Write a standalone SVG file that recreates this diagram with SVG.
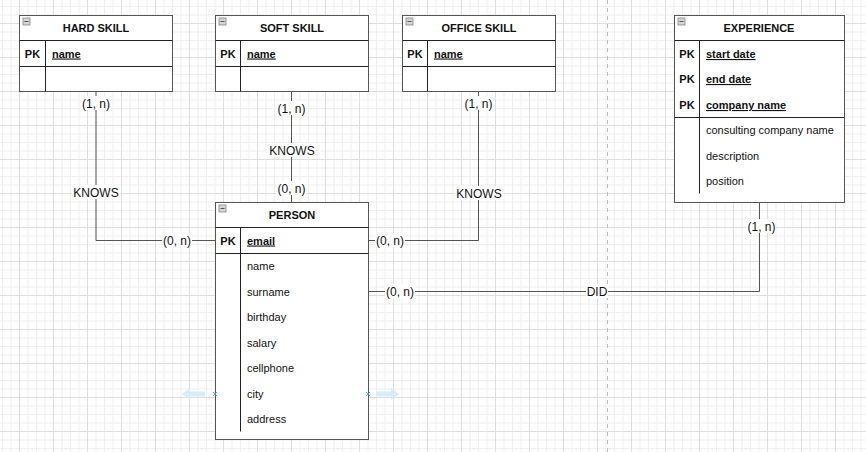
<svg xmlns="http://www.w3.org/2000/svg" width="866" height="452" viewBox="0 0 866 452">
<style>
text{font-family:"Liberation Sans",Arial,Helvetica,sans-serif;fill:#111;}
.hdr{font-size:11px;font-weight:bold;text-anchor:middle;}
.pk{font-size:11px;font-weight:bold;text-anchor:middle;}
.key{font-size:11px;font-weight:bold;text-decoration:underline;}
.att{font-size:11px;}
.box{fill:#fff;stroke:#555;stroke-width:1;}
.div{stroke:#222;stroke-width:1;fill:none;}
.edge{stroke:#555;stroke-width:1;fill:none;}
.lbl{font-size:12px;text-anchor:middle;}
.lbg{fill:#fff;}
.mini{fill:#d6d6d6;stroke:#888;stroke-width:0.8;}
</style>
<defs>
<pattern id="grid" width="34" height="34" patternUnits="userSpaceOnUse" x="19" y="23">
<path d="M0.5 0V34M9 0V34M17.5 0V34M26 0V34M0 0.5H34M0 9H34M0 17.5H34M0 26H34" stroke="#efefef" stroke-width="1"/>
<path d="M0.5 0V34M0 0.5H34" stroke="#dedede" stroke-width="1"/>
</pattern>
<g id="minus"><rect class="mini" x="0" y="0" width="7" height="7"/><line x1="1.5" y1="3.5" x2="5.5" y2="3.5" stroke="#555" stroke-width="1"/></g>
</defs>
<rect width="866" height="452" fill="#fff"/>
<rect width="866" height="452" fill="url(#grid)"/>
<line x1="607.5" y1="0" x2="607.5" y2="452" stroke="#bdbdbd" stroke-dasharray="4 4"/>

<g id="connectors">
<path class="edge" d="M96 92V240.5H215.5"/>
<path class="edge" d="M291.5 92V202"/>
<path class="edge" d="M478.5 92V240.5H368.5"/>
<path class="edge" d="M759.5 202.5V291.5H368.5"/>
<rect class="lbg" x="81" y="96" width="30" height="14"/><text class="lbl" x="96" y="107.5">(1, n)</text>
<rect class="lbg" x="72" y="185" width="48" height="14"/><text class="lbl" x="96" y="196.5">KNOWS</text>
<rect class="lbg" x="162" y="233" width="30" height="14"/><text class="lbl" x="177" y="244.5">(0, n)</text>
<rect class="lbg" x="276" y="101" width="30" height="14"/><text class="lbl" x="291.5" y="112.5">(1, n)</text>
<rect class="lbg" x="268" y="143" width="48" height="14"/><text class="lbl" x="292" y="154.5">KNOWS</text>
<rect class="lbg" x="276" y="181" width="30" height="14"/><text class="lbl" x="291.5" y="192.5">(0, n)</text>
<rect class="lbg" x="463" y="96" width="30" height="14"/><text class="lbl" x="478.5" y="107.5">(1, n)</text>
<rect class="lbg" x="455" y="186" width="48" height="14"/><text class="lbl" x="479" y="197.5">KNOWS</text>
<rect class="lbg" x="375" y="233" width="30" height="14"/><text class="lbl" x="390" y="244.5">(0, n)</text>
<rect class="lbg" x="746" y="219" width="30" height="14"/><text class="lbl" x="761.5" y="230.5">(1, n)</text>
<rect class="lbg" x="586" y="284" width="22" height="14"/><text class="lbl" x="597" y="295.5">DID</text>
<rect class="lbg" x="385" y="284" width="30" height="14"/><text class="lbl" x="400" y="295.5">(0, n)</text>
</g>

<g id="hard-skill">
<rect class="box" x="19.5" y="15.5" width="153" height="76"/>
<line class="div" x1="19.5" y1="40.5" x2="172.5" y2="40.5"/>
<line class="div" x1="19.5" y1="66.5" x2="172.5" y2="66.5"/>
<line class="div" x1="45.5" y1="40.5" x2="45.5" y2="91.5"/>
<use href="#minus" x="23" y="18"/>
<text class="hdr" x="96" y="32">HARD SKILL</text>
<text class="pk" x="32.5" y="57.5">PK</text>
<text class="key" x="52" y="57.5">name</text>
</g>

<g id="soft-skill">
<rect class="box" x="215.5" y="15.5" width="153" height="76"/>
<line class="div" x1="215.5" y1="40.5" x2="368.5" y2="40.5"/>
<line class="div" x1="215.5" y1="66.5" x2="368.5" y2="66.5"/>
<line class="div" x1="240.5" y1="40.5" x2="240.5" y2="91.5"/>
<use href="#minus" x="219" y="18"/>
<text class="hdr" x="292" y="32">SOFT SKILL</text>
<text class="pk" x="228" y="57.5">PK</text>
<text class="key" x="247" y="57.5">name</text>
</g>

<g id="office-skill">
<rect class="box" x="402.5" y="15.5" width="153" height="76"/>
<line class="div" x1="402.5" y1="40.5" x2="555.5" y2="40.5"/>
<line class="div" x1="402.5" y1="66.5" x2="555.5" y2="66.5"/>
<line class="div" x1="427.5" y1="40.5" x2="427.5" y2="91.5"/>
<use href="#minus" x="406" y="18"/>
<text class="hdr" x="479" y="32">OFFICE SKILL</text>
<text class="pk" x="415" y="57.5">PK</text>
<text class="key" x="434" y="57.5">name</text>
</g>

<g id="experience">
<rect class="box" x="674.5" y="15.5" width="170" height="187"/>
<line class="div" x1="674.5" y1="40.5" x2="844.5" y2="40.5"/>
<line class="div" x1="674.5" y1="117.5" x2="844.5" y2="117.5"/>
<line class="div" x1="699.5" y1="40.5" x2="699.5" y2="193.5"/>
<use href="#minus" x="678" y="18"/>
<text class="hdr" x="759" y="32">EXPERIENCE</text>
<text class="pk" x="687" y="58">PK</text>
<text class="key" x="706" y="58">start date</text>
<text class="pk" x="687" y="83">PK</text>
<text class="key" x="706" y="83">end date</text>
<text class="pk" x="687" y="109">PK</text>
<text class="key" x="706" y="109">company name</text>
<text class="att" x="706" y="134">consulting company name</text>
<text class="att" x="706" y="160">description</text>
<text class="att" x="706" y="185">position</text>
</g>

<g id="person">
<rect class="box" x="215.5" y="202.5" width="153" height="237"/>
<line class="div" x1="215.5" y1="227.5" x2="368.5" y2="227.5"/>
<line class="div" x1="215.5" y1="253.5" x2="368.5" y2="253.5"/>
<line class="div" x1="240.5" y1="227.5" x2="240.5" y2="431.5"/>
<use href="#minus" x="219" y="205"/>
<text class="hdr" x="292" y="219">PERSON</text>
<text class="pk" x="228" y="244.5">PK</text>
<text class="key" x="247" y="244.5">email</text>
<text class="att" x="247" y="270">name</text>
<text class="att" x="247" y="296">surname</text>
<text class="att" x="247" y="321">birthday</text>
<text class="att" x="247" y="347">salary</text>
<text class="att" x="247" y="372">cellphone</text>
<text class="att" x="247" y="398">city</text>
<text class="att" x="247" y="423">address</text>
</g>

<g id="hover-hints" opacity="0.9">
<path d="M182 394L190 388V391.5H205V396.5H190V400Z" fill="#d4ecfb"/>
<path d="M399 394L391 388V391.5H376V396.5H391V400Z" fill="#d4ecfb"/>
<path d="M213 392L217 396M217 392L213 396" stroke="#29a8e8" stroke-width="1"/>
<path d="M366 392L370 396M370 392L366 396" stroke="#29a8e8" stroke-width="1"/>
</g>
</svg>
